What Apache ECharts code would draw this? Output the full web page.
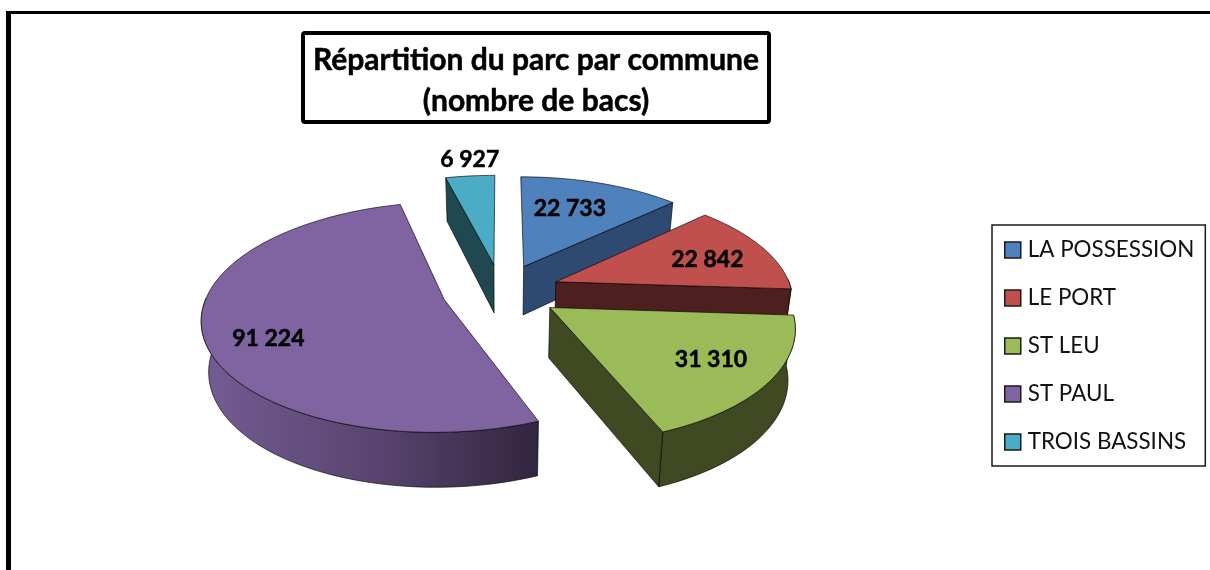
<!DOCTYPE html>
<html><head><meta charset="utf-8">
<style>html,body{margin:0;padding:0;background:#fff}#c{width:1210px;height:570px}</style>
<script src="https://cdn.jsdelivr.net/npm/echarts@6/dist/echarts.min.js"></script>
</head><body><div id="c"></div>
<script>
const categories = ['LA POSSESSION','LE PORT','ST LEU','ST PAUL','TROIS BASSINS'];
const values = [22733, 22842, 31310, 91224, 6927];
const valueLabels = ['22 733','22 842','31 310','91 224','6 927'];
const topColors = ['#4F81BD','#C0504D','#9BBB59','#8064A2','#4BACC6'];
const wallColors = ['#2E4A72','#4D1F1E','#3F4A22','#5D4872','#1F4850'];
const labelRadius = [0.66,0.71,0.745,0.763,1.22];
const labelTurn = [-3,2.5,-1,-7.6,1];
const drawOrder = [4,0,1,3,2];
const titleText = 'Répartition du parc par commune\n(nombre de bacs)';

// pseudo-3D view of the exploded pie
const view = {cx:501, cy:291, rx:236, ry:110, persp:0.15, explode:0.25, depth:49.5, depthSlope:5, taper:0.025};
const total = values.reduce((a,b)=>a+b,0);
const starts = []; values.reduce((acc,v,i)=>{starts[i]=acc;return acc+v;},0);
const rad = v => v/total*Math.PI*2;

function project(P,Q,z){
  const s = 1/(1+view.persp*Q);
  return [view.cx + view.rx*P*s*(1-view.taper*z),
          view.cy - view.ry*Q*s + z*(view.depth - view.depthSlope*Q)];
}
function renderSlice(idx){
  return function(params, api){
    const v = api.value(0);
    const t0 = rad(starts[idx]), t1 = t0+rad(v), tm=(t0+t1)/2;
    const ox = view.explode*Math.sin(tm), oy = view.explode*Math.cos(tm);
    const pt = (t,r,z)=>project(ox+r*Math.sin(t), oy+r*Math.cos(t), z);
    const n = Math.max(4,Math.ceil((t1-t0)/0.03));
    const arc=[]; for(let i=0;i<=n;i++) arc.push(t0+(t1-t0)*i/n);
    const line = {stroke:'rgba(0,0,0,0.8)', lineWidth:0.8};
    let wallFill = wallColors[idx];
    if(idx===3){
      wallFill = new echarts.graphic.LinearGradient(205,0,538,0,[
        {offset:0,color:'#735C92'},{offset:0.5,color:'#5A4570'},{offset:1,color:'#32253F'}],true);
    }
    const poly = (pts,fill)=>({type:'polygon',shape:{points:pts},style:Object.assign({fill},line)});
    const children = [];
    const front = arc.filter(t=>Math.cos(t)<=0.03);
    if(front.length>1){
      children.push(poly(front.map(t=>pt(t,1,0)).concat(front.slice().reverse().map(t=>pt(t,1,1))), wallFill));
    }
    if(Math.sin(t0)<-1e-6) children.push(poly([pt(t0,0,0),pt(t0,1,0),pt(t0,1,1),pt(t0,0,1)], wallColors[idx]));
    if(Math.sin(t1)>1e-6) children.push(poly([pt(t1,0,0),pt(t1,1,0),pt(t1,1,1),pt(t1,0,1)], wallColors[idx]));
    children.push(poly([pt(t0,0,0)].concat(arc.map(t=>pt(t,1,0))), topColors[idx]));
    const lp = pt(tm+labelTurn[idx]*Math.PI/180,labelRadius[idx],0);
    children.push({type:'text',z2:10,style:{text:valueLabels[idx],x:lp[0],y:lp[1],
      fill:'#000',stroke:'#000',lineWidth:0.5,font:'bold 23px Lato',align:'center',verticalAlign:'middle'}});
    return {type:'group',children};
  };
}
const series = drawOrder.map((idx,i)=>({
  type:'custom', name:categories[idx], coordinateSystem:'none', silent:true, animation:false,
  z:2+i, itemStyle:{color:topColors[idx]}, renderItem:renderSlice(idx), data:[[values[idx]]]
}));

const chart = echarts.init(document.getElementById('c'),null,{renderer:'canvas'});
chart.setOption({
  animation:false, backgroundColor:'#fff',
  title:{text:titleText,left:526,top:33,padding:[7,10,0,10],borderColor:'#000',borderWidth:4,borderRadius:2,
    textAlign:'center',
    textStyle:{color:'#000',fontFamily:'Lato',fontWeight:'bold',fontSize:30,lineHeight:41,textBorderColor:'#000',textBorderWidth:0.5}},
  legend:{orient:'vertical',left:992,top:225,padding:[14,11,13,12],itemWidth:16,itemHeight:16,itemGap:26,
    borderColor:'#1a1a1a',borderWidth:1.5,backgroundColor:'#fff',selectedMode:false,
    textStyle:{fontFamily:'Lato',fontSize:22.4,color:'#111',padding:[0,0,0,2]},
    itemStyle:{borderColor:'#1a1a1a',borderWidth:1.5},
    data:categories.map((name,i)=>({name,icon:'rect',itemStyle:{color:topColors[i]}}))},
  graphic:[
    {type:'rect',shape:{x:6,y:11,width:5,height:560},style:{fill:'#000'},silent:true},
    {type:'rect',shape:{x:6,y:11,width:1204,height:3},style:{fill:'#000'},silent:true}
  ],
  series
});
</script></body></html>
